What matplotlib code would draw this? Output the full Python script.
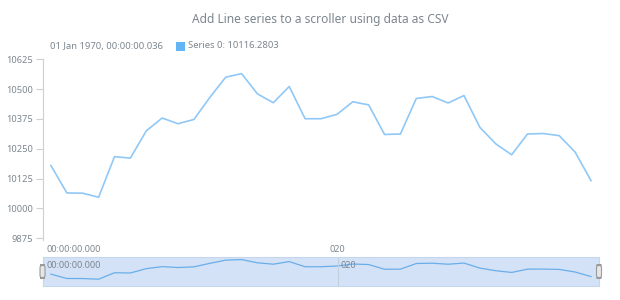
import matplotlib
matplotlib.use("Agg")
import matplotlib.pyplot as plt
from matplotlib.patches import Rectangle, FancyBboxPatch

plt.rcParams['font.family'] = ['Noto Sans', 'DejaVu Sans']

# data (ordinal x, one point per record)
values = [10180, 10065, 10064, 10047, 10217, 10211, 10325, 10379, 10355,
          10373, 10465, 10550, 10565, 10480, 10443, 10511, 10376, 10376,
          10394, 10447, 10434, 10310, 10312, 10461, 10469, 10442, 10473,
          10340, 10271, 10225, 10312, 10314, 10305, 10236, 10116.2803]
x = list(range(len(values)))
y_ticks = [9875, 10000, 10125, 10250, 10375, 10500, 10625]
x_tick_pos = [0, 18]
x_tick_labels = ["00:00:00.000", "020"]
title = "Add Line series to a scroller using data as CSV"
legend_date = "01 Jan 1970, 00:00:00.036"
legend_series = "Series 0: 10116.2803"

W, H = 620, 300
grey = '#7c868e'
line_col = '#90c8f6'

fig = plt.figure(figsize=(6.2, 3.0), dpi=100)

def fx(px):
    return px / W

def fy(py):
    return 1 - py / H

# main plot
ax = fig.add_axes([fx(43), fy(238.3), fx(599) - fx(43), fy(59.3) - fy(238.3)])
ax.plot(x, values, color=line_col, lw=1.2)
ax.set_xlim(-0.5, len(values) - 0.5)
ax.set_ylim(y_ticks[0], y_ticks[-1])
ax.set_yticks(y_ticks)
ax.set_yticklabels([str(t) for t in y_ticks], color=grey, fontsize=6.7)
ax.tick_params(axis='y', length=5, color='#cfcfcf', pad=2)
for s in ['top', 'right', 'bottom']:
    ax.spines[s].set_visible(False)
ax.spines['left'].set_color('#cfcfcf')
ax.spines['left'].set_bounds(y_ticks[0] - 8, y_ticks[-1])
ax.set_xticks([])
ax.text(x_tick_pos[0] - 0.27, -0.035, x_tick_labels[0], transform=ax.get_xaxis_transform(),
        ha='left', va='top', fontsize=6.5, color=grey)
ax.text(x_tick_pos[1], -0.035, x_tick_labels[1], transform=ax.get_xaxis_transform(),
        ha='center', va='top', fontsize=6.5, color=grey)

# scroller
sc = fig.add_axes([fx(43), fy(285.7), fx(599) - fx(43), fy(257.3) - fy(285.7)])
sc.set_facecolor('#d3e2f6')
sc.plot(x, values, color='#6aaee9', lw=0.9)
sc.set_xlim(-0.5, len(values) - 0.5)
sc.set_ylim(y_ticks[0], y_ticks[-1])
sc.set_xticks([])
sc.set_yticks([])
for s in sc.spines.values():
    s.set_color('#c6d6ec')
    s.set_linewidth(0.8)
sc.axvline(x_tick_pos[1] + 0.05, color='#c3cfdc', lw=0.8)
sc.text(x_tick_pos[0] - 0.25, 0.72, x_tick_labels[0], transform=sc.get_xaxis_transform(),
        ha='left', va='center', fontsize=6.5, color=grey)
sc.text(x_tick_pos[1] + 0.25, 0.72, x_tick_labels[1], transform=sc.get_xaxis_transform(),
        ha='left', va='center', fontsize=6.5, color=grey)

# scroller handles
for hx in (42.5, 599):
    fig.patches.append(FancyBboxPatch((fx(hx - 2.5), fy(278)), fx(5), fy(265) - fy(278),
                                      boxstyle='round,pad=0,rounding_size=0.008',
                                      transform=fig.transFigure, facecolor='#e6e6e6',
                                      edgecolor='#9a9a9a', lw=0.8, zorder=5))

# title and legend
fig.text(fx(320), fy(20), title, ha='center', va='center', fontsize=8.6, color=grey)
fig.text(fx(50), fy(46), legend_date, ha='left', va='center', fontsize=6.8, color=grey)
fig.patches.append(Rectangle((fx(176), fy(50.5)), fx(8.5), fy(42) - fy(50.5),
                             transform=fig.transFigure, facecolor='#64b5f6', edgecolor='none'))
fig.text(fx(188.5), fy(46), legend_series, ha='left', va='center', fontsize=6.8, color=grey)

fig.savefig('out.png', dpi=100)
